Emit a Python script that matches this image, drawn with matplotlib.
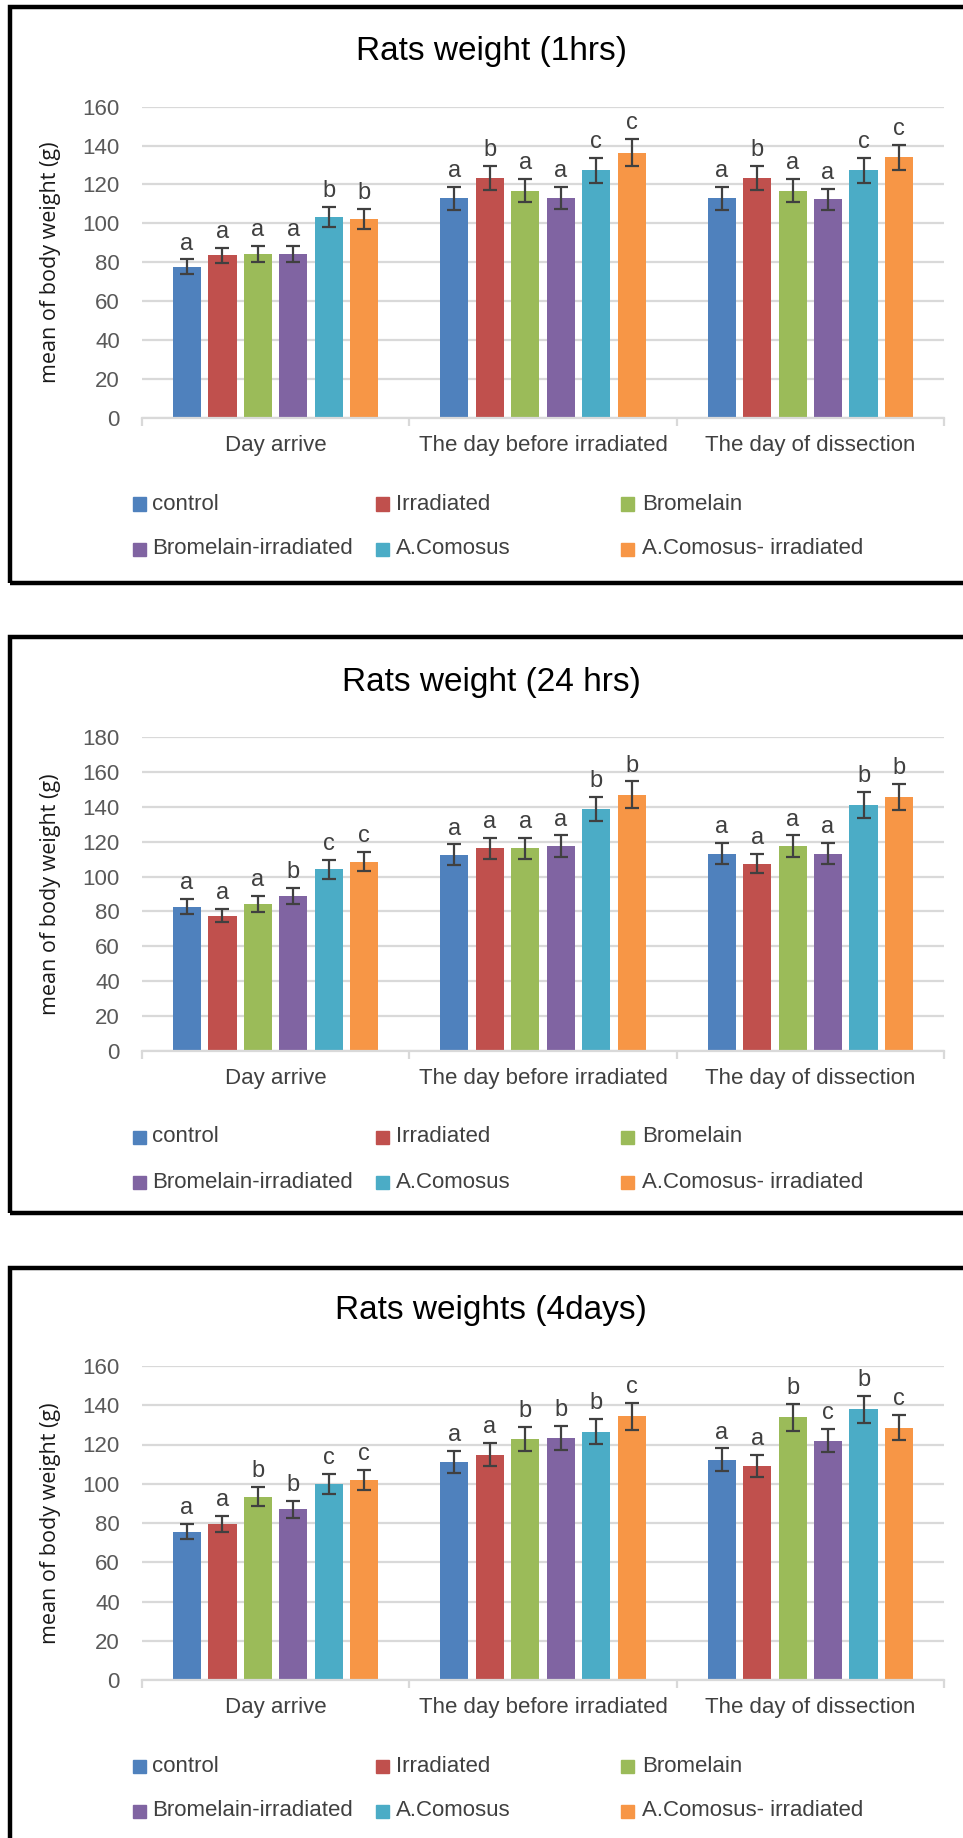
import matplotlib
matplotlib.use('Agg')
import matplotlib.pyplot as plt
from matplotlib import font_manager
from matplotlib.patches import Rectangle
import numpy as np

# Categorias e grupos
categories = ['Day arrive', 'The day before irradiated', 'The day of dissection']
groups = ['control', 'Irradiated', 'Bromelain', 'Bromelain-irradiated', 'A.Comosus', 'A.Comosus- irradiated']
colors = ['#4F81BD', '#C0504D', '#9BBB59', '#8064A2', '#4BACC6', '#F79646']

# Painel 1 - 1hrs (linhas = categorias, colunas = grupos)
title_1h = 'Rats weight (1hrs)'
means_1h = [[77.7, 83.5, 84.3, 84.3, 103.2, 102.4],
            [112.9, 123.4, 116.8, 112.9, 127.3, 136.3],
            [112.9, 123.4, 116.8, 112.3, 127.3, 133.9]]
err_1h = [[3.8, 4.0, 4.3, 4.3, 5.2, 5.2],
          [5.8, 6.1, 5.9, 5.7, 6.4, 6.9],
          [5.8, 6.2, 5.9, 5.6, 6.4, 6.6]]
letters_1h = [['a', 'a', 'a', 'a', 'b', 'b'],
              ['a', 'b', 'a', 'a', 'c', 'c'],
              ['a', 'b', 'a', 'a', 'c', 'c']]

# Painel 2 - 24 hrs
title_24h = 'Rats weight (24 hrs)'
means_24h = [[82.8, 77.6, 84.3, 88.8, 104.1, 108.6],
             [112.4, 116.2, 116.2, 117.5, 138.8, 147.0],
             [113.2, 107.4, 117.5, 113.2, 141.1, 145.5]]
err_24h = [[4.4, 3.9, 4.4, 4.8, 5.3, 5.7],
           [6.0, 6.0, 6.0, 6.1, 6.9, 7.5],
           [6.0, 5.5, 6.1, 6.0, 7.3, 7.4]]
letters_24h = [['a', 'a', 'a', 'b', 'c', 'c'],
               ['a', 'a', 'a', 'a', 'b', 'b'],
               ['a', 'a', 'a', 'a', 'b', 'b']]

# Painel 3 - 4days
title_4d = 'Rats weights (4days)'
means_4d = [[75.6, 79.6, 93.4, 86.9, 99.9, 101.8],
            [111.1, 114.9, 122.8, 123.3, 126.6, 134.4],
            [112.3, 109.0, 133.8, 122.0, 137.9, 128.5]]
err_4d = [[4.0, 4.1, 4.8, 4.3, 5.2, 5.2],
          [5.7, 5.7, 6.3, 6.3, 6.4, 6.8],
          [5.7, 5.7, 6.7, 6.0, 6.9, 6.4]]
letters_4d = [['a', 'a', 'b', 'b', 'c', 'c'],
              ['a', 'a', 'b', 'b', 'b', 'c'],
              ['a', 'a', 'b', 'c', 'b', 'c']]

panels = [
    (title_1h, means_1h, err_1h, letters_1h, 160, 7, 583),
    (title_24h, means_24h, err_24h, letters_24h, 180, 637, 1213),
    (title_4d, means_4d, err_4d, letters_4d, 160, 1268, 1900),
]
# posicao vertical (pixels) do topo e da base da area do grafico
plot_rows = [(106.6, 418), (737, 1051), (1366, 1680)]

available = {f.name for f in font_manager.fontManager.ttflist}
narrow = 'Liberation Sans Narrow' if 'Liberation Sans Narrow' in available else 'Liberation Sans'
plt.rcParams['font.family'] = [narrow, 'DejaVu Sans']

W, H = 963, 1838
fig = plt.figure(figsize=(W / 100, H / 100), dpi=100)
fig.patch.set_facecolor('white')

px_x0, px_x1 = 142, 944
step = 0.1326
bar_w = 0.105


def fx(px):
    return px / W


def fy(py):
    return 1 - py / H


for (title, means, errs, letters, ymax, frame_top, frame_bot), (top, bot) in zip(panels, plot_rows):
    # moldura preta do painel
    fig.patches.append(Rectangle((fx(10), fy(frame_bot)), fx(1000 - 10), fy(frame_top) - fy(frame_bot),
                                 transform=fig.transFigure, fill=False, edgecolor='black', lw=3.2, zorder=0))

    ax = fig.add_axes([fx(px_x0), fy(bot), fx(px_x1 - px_x0), fy(top) - fy(bot)])
    x = np.arange(len(categories))
    for i, g in enumerate(groups):
        vals = [row[i] for row in means]
        e = [row[i] for row in errs]
        xi = x + (i - 2.5) * step
        ax.bar(xi, vals, width=bar_w, color=colors[i], zorder=2)
        ax.errorbar(xi, vals, yerr=e, fmt='none', ecolor='#404040', elinewidth=1.6,
                    capsize=4.8, capthick=1.6, zorder=3)
        for xx, v, ee, lab in zip(xi, vals, e, [row[i] for row in letters]):
            ax.annotate(lab, xy=(xx, v + ee), xytext=(0, 3.5), textcoords='offset points',
                        ha='center', va='bottom', fontsize=17, color='#404040')

    ax.set_xlim(-0.5, 2.5)
    ax.set_ylim(0, ymax)
    ax.set_yticks(np.arange(0, ymax + 1, 20))
    ax.yaxis.grid(True, color='#D9D9D9', lw=1.6)
    ax.set_axisbelow(True)
    for s in ['left', 'right', 'top']:
        ax.spines[s].set_visible(False)
    ax.spines['bottom'].set_color('#D9D9D9')
    ax.spines['bottom'].set_linewidth(1.6)
    ax.tick_params(axis='y', length=0, pad=16, labelsize=16, labelcolor='#595959')
    ax.set_xticks([-0.5, 0.5, 1.5, 2.5])
    ax.set_xticklabels([])
    ax.tick_params(axis='x', which='major', length=6, width=1.6, color='#D9D9D9')
    ax.set_xticks(x, minor=True)
    ax.set_xticklabels(categories, minor=True)
    ax.tick_params(axis='x', which='minor', length=0, pad=12, labelsize=16, labelcolor='#404040')
    ax.set_ylabel('mean of body weight (g)', fontsize=15.5, family=['Open Sans', 'DejaVu Sans'], color='#1a1a1a')
    ax.yaxis.set_label_coords((61 - px_x0) / (px_x1 - px_x0), 0.5)

    fig.text(fx(491), fy(top - 55), title, ha='center', va='center', fontsize=24, color='black')

    # legenda em duas linhas de tres
    sq_left = [133, 376, 621]
    txt_left = [152, 396, 642]
    for k, g in enumerate(groups):
        r, c = divmod(k, 3)
        yc = bot + 86 + r * 45
        fig.patches.append(Rectangle((fx(sq_left[c]), fy(yc + 6.5)), fx(13), fy(yc - 6.5) - fy(yc + 6.5),
                                     transform=fig.transFigure, color=colors[k]))
        fig.text(fx(txt_left[c]), fy(yc), g, ha='left', va='center', fontsize=16, color='#404040')

plt.savefig('out.png', dpi=100)
